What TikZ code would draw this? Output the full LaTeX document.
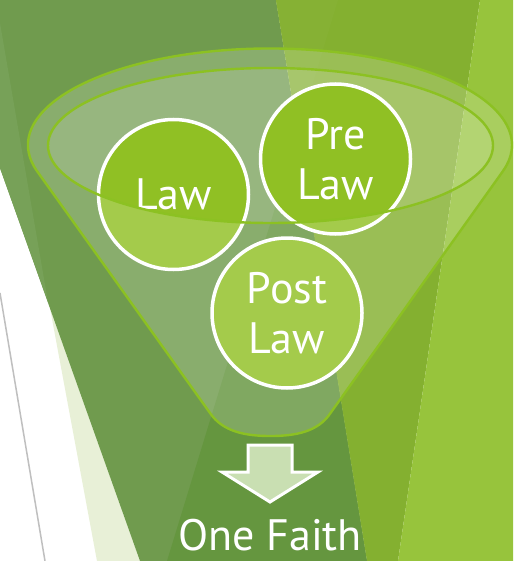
\documentclass[tikz,border=0pt]{standalone}
\usepackage{fontspec}
\setmainfont{PT Sans}

\definecolor{deepgreen}{RGB}{112,155,78}
\definecolor{stripgreen}{RGB}{119,161,88}
\definecolor{shadegreen}{RGB}{101,150,63}
\definecolor{olive}{RGB}{132,176,48}
\definecolor{olivelight}{RGB}{134,177,52}
\definecolor{lime}{RGB}{151,196,60}
\definecolor{paleleaf}{RGB}{232,240,215}
\definecolor{rimline}{RGB}{140,193,34}
\definecolor{ballfill}{RGB}{144,192,36}
\definecolor{arrowfill}{RGB}{201,223,178}

% outline of the funnel body (pixel units, y down)
\newcommand{\funnelbody}{(37.26,171.43) arc[start angle=164.1, end angle=375.9, x radius=242, y radius=96.5]
  -- (330.5,413) .. controls (318,432) and (295,436) .. (270.5,436)
  .. controls (246,436) and (223,432) .. (210,413) -- cycle}
\newcommand{\funnelmouth}{(270.5,145.5) ellipse [x radius=222.5, y radius=77.5]}

\tikzset{
  ball/.style={circle, draw=white, line width=1.75pt, fill=ballfill,
    minimum size=75pt, inner sep=0pt, text=white, align=center,
    font=\fontsize{22}{25}\selectfont},
  rim/.style={draw=rimline, line width=1.2pt},
}

\begin{document}
\begin{tikzpicture}[x=0.5pt,y=-0.5pt]
\useasboundingbox (0,0) rectangle (513,561);

% background facets
\fill[white] (0,0) rectangle (513,561);
\fill[paleleaf] (50,308) -- (97,561) -- (140,561) -- cycle;
\draw[black!25, line width=0.75pt] (0,293) -- (45,561);
\fill[deepgreen] (0,0) -- (276,0) -- (367,561) -- (140,561) -- (0,168) -- cycle;
\fill[stripgreen] (0,23) -- (48,302) -- (0,168) -- cycle;
\fill[shadegreen] (298,133) -- (367,561) -- (167,561) -- cycle;
\fill[olive] (276,0) -- (480,0) -- (398,561) -- (367,561) -- cycle;
\fill[olivelight] (276,0) -- (338,0) -- (298,133) -- cycle;
\fill[lime] (480,0) -- (513,0) -- (513,561) -- (398,561) -- cycle;

% inside of the funnel, behind the balls
\fill[white, fill opacity=0.28] \funnelmouth;

\node[ball] (law) at (173.5,194.5) {Law};
\node[ball] (prelaw) at (335.5,159) {Pre\\Law};
\node[ball] (postlaw) at (287,313) {Post\\Law};

% front of the funnel
\fill[white, fill opacity=0.18, even odd rule] \funnelbody \funnelmouth;
\draw[rim] \funnelbody;
\draw[rim] \funnelmouth;

% arrow and result
\filldraw[fill=arrowfill, draw=white, line width=1.5pt] (248,445) -- (292,445) -- (292,472)
  -- (318,472) -- (270,502) -- (222,472) -- (248,472) -- cycle;
\node[text=white, anchor=base, inner sep=0pt, font=\fontsize{22}{25}\selectfont] (faith) at (270,550) {One Faith};

\end{tikzpicture}
\end{document}
